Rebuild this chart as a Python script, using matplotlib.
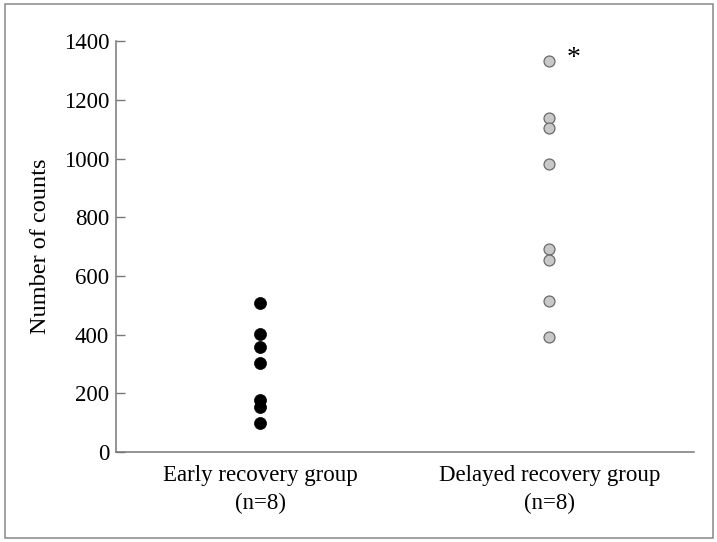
import matplotlib
matplotlib.use("Agg")
import matplotlib.pyplot as plt
from matplotlib.patches import Rectangle

# values
group_labels = ["Early recovery group\n(n=8)", "Delayed recovery group\n(n=8)"]
early_counts = [507, 402, 359, 304, 177, 153, 99]
delayed_counts = [1333, 1139, 1105, 980, 693, 656, 514, 391]
y_ticks = [0, 200, 400, 600, 800, 1000, 1200, 1400]

plt.rcParams["font.family"] = ["Liberation Serif", "DejaVu Serif"]

fig = plt.figure(figsize=(7.17, 5.42), dpi=100)
ax = fig.add_axes([0.1618, 0.166, 0.806, 0.758])

ax.scatter([1] * len(early_counts), early_counts, s=75, color="black",
           edgecolor="black", linewidth=0.5, zorder=3)
ax.scatter([2] * len(delayed_counts), delayed_counts, s=62, color="#c8c8c8",
           edgecolor="#6a6a6a", linewidth=0.9, zorder=3)

# significance marker next to the highest point
ax.annotate("*", xy=(2, max(delayed_counts)), xytext=(24, 2),
            textcoords="offset pixels", ha="center", va="center", fontsize=20)

ax.set_xlim(0.5, 2.5)
ax.set_ylim(0, 1400)
ax.set_yticks(y_ticks)
ax.set_xticks([1, 2])
ax.set_xticklabels(group_labels, fontsize=16.5, linespacing=1.45)
ax.tick_params(axis="y", direction="in", length=6.5, width=1, color="#777777",
               labelsize=16.5, pad=5)
ax.tick_params(axis="x", length=0, pad=9)
ax.set_ylabel("Number of counts", fontsize=17.5, labelpad=9)

for side in ["top", "right"]:
    ax.spines[side].set_visible(False)
for side in ["left", "bottom"]:
    ax.spines[side].set_color("#777777")
    ax.spines[side].set_linewidth(1.1)

# outer frame round the whole figure
fig.patches.append(Rectangle((0.007, 0.0074), 0.9875, 0.985, transform=fig.transFigure,
                             fill=False, edgecolor="#888888", linewidth=1.1))

fig.savefig("out.png", dpi=100)
